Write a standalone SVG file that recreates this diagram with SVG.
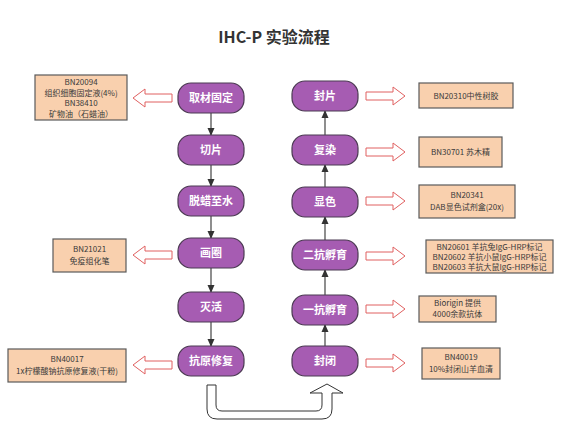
<svg xmlns="http://www.w3.org/2000/svg" width="564" height="427" viewBox="0 0 564 427">
<style>
.node rect{fill:#A65CB2;stroke:#4B3A52;stroke-width:1.2}
.node text{fill:#fff;font-family:"Noto Sans CJK SC","Noto Sans",sans-serif;font-weight:bold;font-size:11px;text-anchor:middle}
.box rect{fill:#F9D0AE;stroke:#5A5A5A;stroke-width:1.2}
.box text{fill:#3a3a3a;font-family:"Noto Sans CJK SC","Noto Sans",sans-serif;font-size:8px;text-anchor:middle}
.ha{fill:#fff;stroke:#E06060;stroke-width:1}
.conn line{stroke:#444;stroke-width:1.2;marker-end:url(#ah)}
.title{font-family:"Noto Sans CJK SC","Noto Sans",sans-serif;font-weight:bold;font-size:16px;fill:#333;text-anchor:middle}
</style>
<defs>
<marker id="ah" markerWidth="8" markerHeight="8" refX="7" refY="4" orient="auto" markerUnits="userSpaceOnUse">
<path d="M0,0.5 L8,4 L0,7.5 Z" fill="#333"/>
</marker>
</defs>
<rect width="564" height="427" fill="#fff"/>
<text class="title" x="274" y="43">IHC-P 实验流程</text>

<g class="conn">
<line x1="211" y1="113" x2="211" y2="135"/>
<line x1="211" y1="165" x2="211" y2="186"/>
<line x1="211" y1="216" x2="211" y2="238"/>
<line x1="211" y1="268" x2="211" y2="292"/>
<line x1="211" y1="322" x2="211" y2="346"/>
<line x1="325" y1="346" x2="325" y2="325"/>
<line x1="325" y1="295" x2="325" y2="270"/>
<line x1="325" y1="240" x2="325" y2="217"/>
<line x1="325" y1="187" x2="325" y2="165"/>
<line x1="325" y1="135" x2="325" y2="111"/>
<path d="M207,385 V409 Q207,419 217,419 H322 Q332,419 332,409 V393 H343 L327,384 L310,393 H322 V405 Q322,411 316,411 H222 Q216,411 216,405 V385 Z" fill="#fff" stroke="#333" stroke-width="1"/>
</g>

<g id="arrows-left">
<path class="ha" d="M133,98 L145,89 L145,94 L172,94 L172,102 L145,102 L145,107 Z"/>
<path class="ha" d="M133,255 L145,246 L145,251 L172,251 L172,259 L145,259 L145,264 Z"/>
<path class="ha" d="M133,365 L145,356 L145,361 L172,361 L172,369 L145,369 L145,374 Z"/>
</g>
<g id="arrows-right">
<path class="ha" d="M405,96 L393,87 L393,92 L366,92 L366,100 L393,100 L393,105 Z"/>
<path class="ha" d="M405,152 L393,143 L393,148 L366,148 L366,156 L393,156 L393,161 Z"/>
<path class="ha" d="M405,201 L393,192 L393,197 L366,197 L366,205 L393,205 L393,210 Z"/>
<path class="ha" d="M405,256 L393,247 L393,252 L366,252 L366,260 L393,260 L393,265 Z"/>
<path class="ha" d="M405,309 L393,300 L393,305 L366,305 L366,313 L393,313 L393,318 Z"/>
<path class="ha" d="M405,363 L393,354 L393,359 L366,359 L366,367 L393,367 L393,372 Z"/>
</g>

<g id="n1" class="node"><rect x="178" y="83" width="66" height="30" rx="13"/><text x="211" y="102">取材固定</text></g>
<g id="n2" class="node"><rect x="178" y="135" width="66" height="30" rx="13"/><text x="211" y="154">切片</text></g>
<g id="n3" class="node"><rect x="178" y="186" width="66" height="30" rx="13"/><text x="211" y="205">脱蜡至水</text></g>
<g id="n4" class="node"><rect x="178" y="238" width="66" height="30" rx="13"/><text x="211" y="257">画圈</text></g>
<g id="n5" class="node"><rect x="178" y="292" width="66" height="30" rx="13"/><text x="211" y="311">灭活</text></g>
<g id="n6" class="node"><rect x="178" y="346" width="66" height="30" rx="13"/><text x="211" y="365">抗原修复</text></g>

<g id="m1" class="node"><rect x="292" y="81" width="66" height="30" rx="13"/><text x="325" y="100">封片</text></g>
<g id="m2" class="node"><rect x="292" y="135" width="66" height="30" rx="13"/><text x="325" y="154">复染</text></g>
<g id="m3" class="node"><rect x="292" y="187" width="66" height="30" rx="13"/><text x="325" y="206">显色</text></g>
<g id="m4" class="node"><rect x="292" y="240" width="66" height="30" rx="13"/><text x="325" y="259">二抗孵育</text></g>
<g id="m5" class="node"><rect x="292" y="295" width="66" height="30" rx="13"/><text x="325" y="314">一抗孵育</text></g>
<g id="m6" class="node"><rect x="292" y="346" width="66" height="30" rx="13"/><text x="325" y="365">封闭</text></g>

<g id="b1" class="box"><rect x="35" y="75" width="92" height="45"/>
<text x="81" y="85">BN20094</text><text x="81" y="95.5">组织细胞固定液(4%)</text><text x="81" y="106">BN38410</text><text x="81" y="116.5">矿物油（石蜡油）</text></g>
<g id="b2" class="box"><rect x="53" y="239" width="73" height="33"/>
<text x="89.5" y="252">BN21021</text><text x="89.5" y="264">免疫组化笔</text></g>
<g id="b3" class="box"><rect x="8" y="349" width="118" height="33"/>
<text x="67" y="362">BN40017</text><text x="67" y="374">1x柠檬酸钠抗原修复液(干粉)</text></g>

<g id="c1" class="box"><rect x="419" y="83" width="94" height="25"/>
<text x="466" y="98.5">BN20310中性树胶</text></g>
<g id="c2" class="box"><rect x="419" y="137" width="83" height="30"/>
<text x="460.5" y="155">BN30701 苏木精</text></g>
<g id="c3" class="box"><rect x="419" y="185" width="96" height="33"/>
<text x="467" y="198">BN20341</text><text x="467" y="210">DAB显色试剂盒(20x)</text></g>
<g id="c4" class="box"><rect x="426" y="240" width="127" height="33"/>
<text x="489.5" y="250">BN20601 羊抗兔IgG-HRP标记</text><text x="489.5" y="260">BN20602 羊抗小鼠IgG-HRP标记</text><text x="489.5" y="270">BN20603 羊抗大鼠IgG-HRP标记</text></g>
<g id="c5" class="box"><rect x="419" y="296" width="77" height="26"/>
<text x="457.5" y="306">Biorigin 提供</text><text x="457.5" y="317">4000余款抗体</text></g>
<g id="c6" class="box"><rect x="422" y="348" width="78" height="31"/>
<text x="461" y="360">BN40019</text><text x="461" y="372">10%封闭山羊血清</text></g>
</svg>
